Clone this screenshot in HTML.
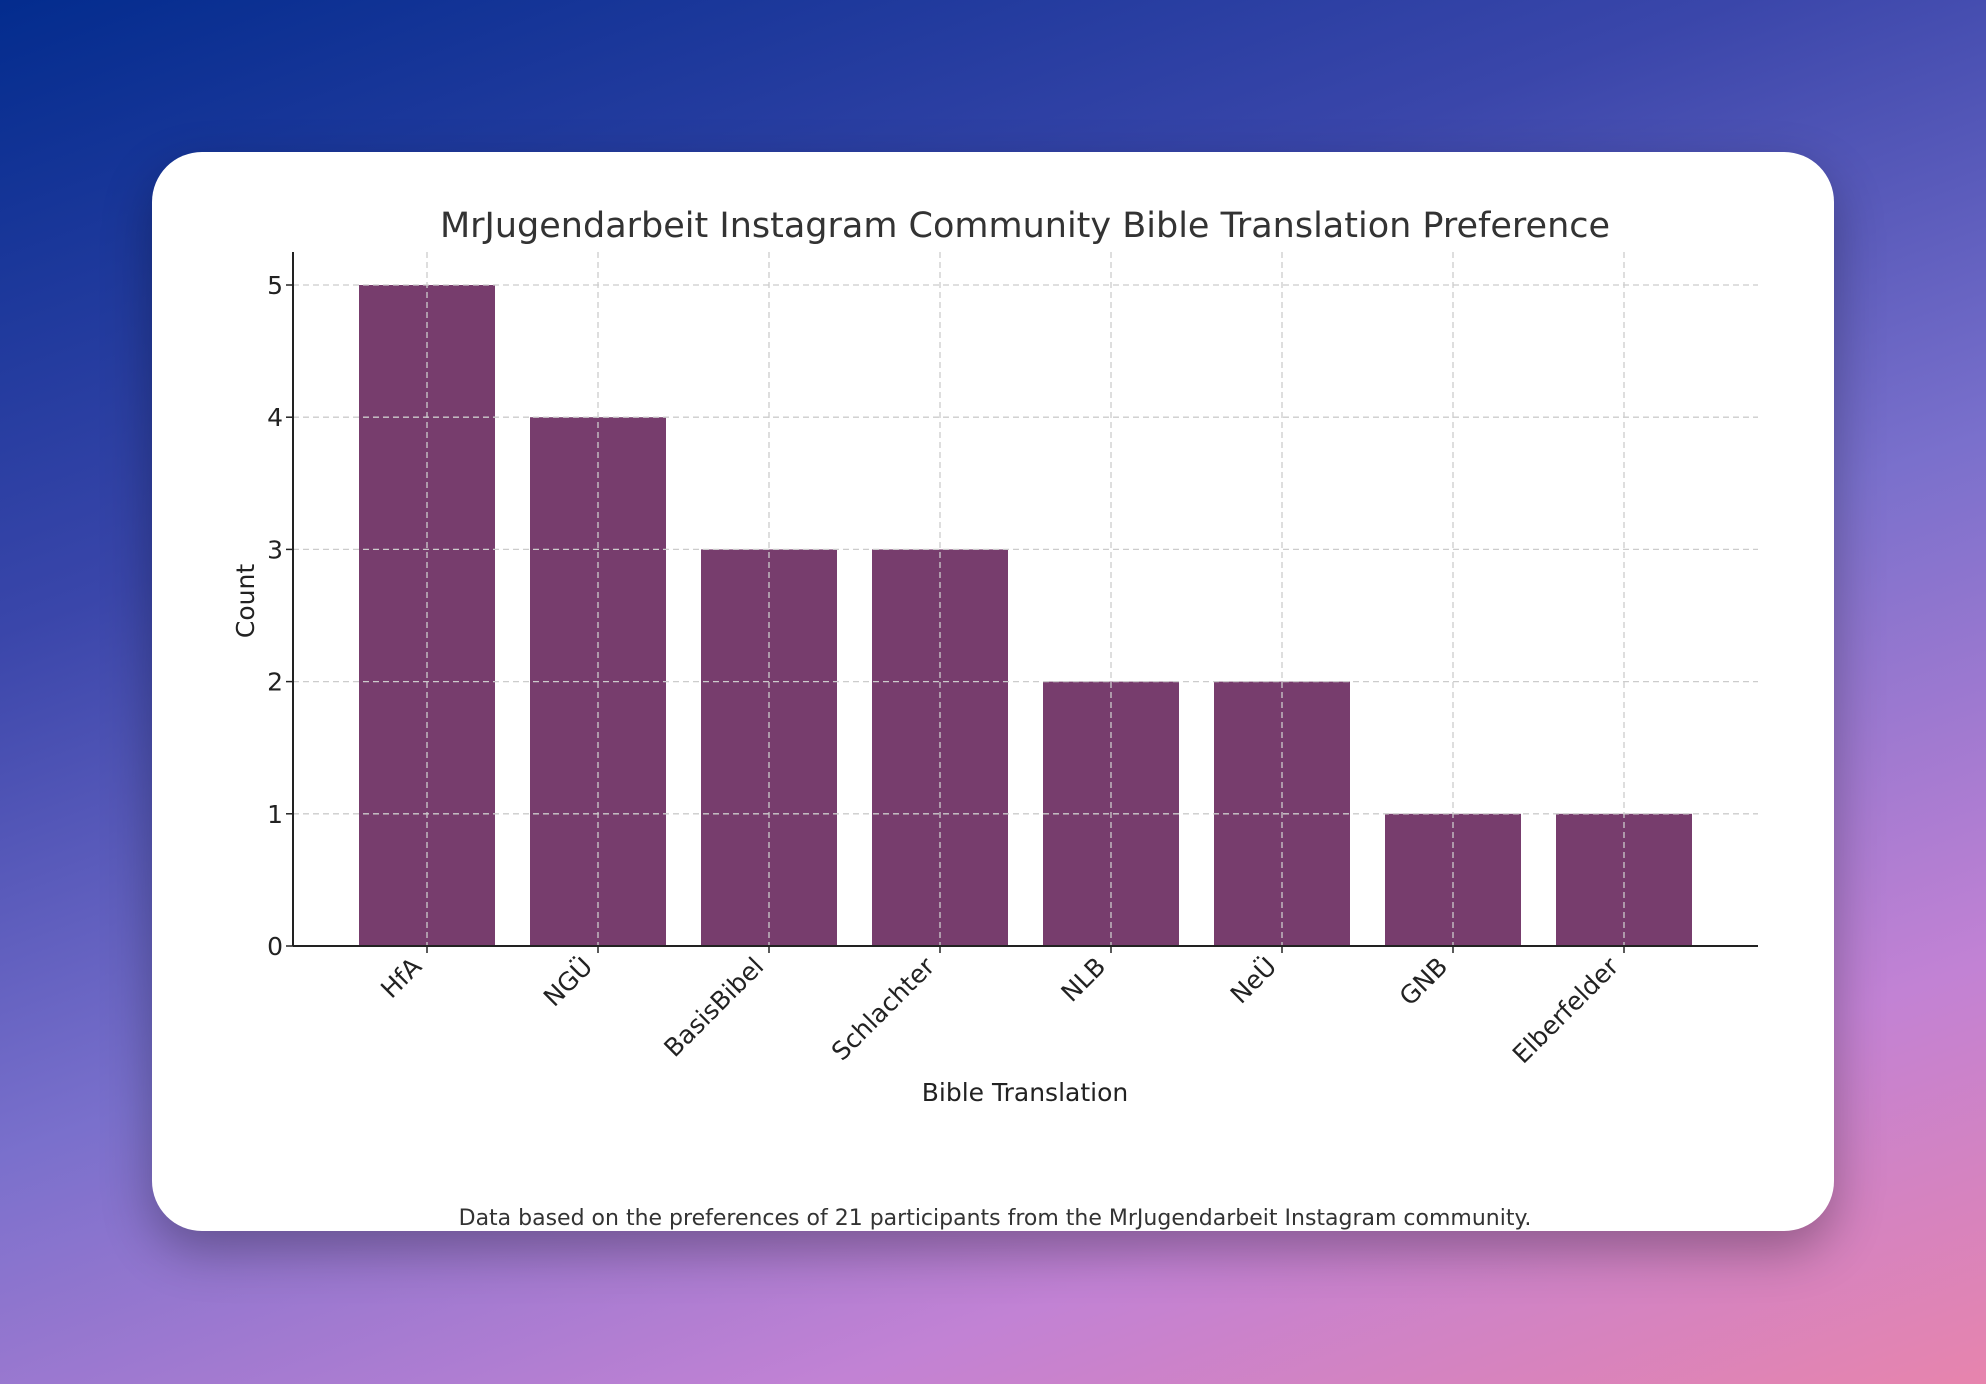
<!DOCTYPE html>
<html><head><meta charset="utf-8"><style>
body{margin:0;width:1986px;height:1384px;overflow:hidden;font-family:"DejaVu Sans","Liberation Sans",sans-serif;
background:linear-gradient(160deg,#032c8e 0%,#3a46aa 30%,#7a70cc 55%,#c282d4 80%,#e784ad 100%);position:relative}
#card{position:absolute;left:152px;top:152px;width:1682px;height:1079px;background:#fff;border-radius:50px;box-shadow:0 20px 50px rgba(0,0,0,0.3)}
svg{position:absolute;left:0;top:0}
</style></head><body>
<div id="card"></div>
<svg id="chart" width="1986" height="1384"></svg>
<script>
const categories=["HfA","NGÜ","BasisBibel","Schlachter","NLB","NeÜ","GNB","Elberfelder"];
const counts=[5,4,3,3,2,2,1,1];
const yTicks=[0,1,2,3,4,5];
const svg=document.getElementById('chart');
const NS='http://www.w3.org/2000/svg';
const x0=293,x1=1758,y0=946,y5=285,yTop=252;
const yS=v=>y0+(y5-y0)*v/5;
const xS=i=>427+i*171;
function mk(t,a,p){const e=document.createElementNS(NS,t);for(const k in a)e.setAttribute(k,a[k]);(p||svg).appendChild(e);return e;}
let e;
e=mk('text',{x:1025,y:237,'text-anchor':'middle','font-size':35,fill:'#333'});e.textContent='MrJugendarbeit Instagram Community Bible Translation Preference';


categories.forEach((c,i)=>{
 const r=mk('rect',{x:xS(i)-68,y:yS(counts[i]),width:136,height:y0-yS(counts[i]),fill:'#773d6d'});
 
 
});
yTicks.forEach(v=>{
 const g=mk('line',{x1:x0,x2:x1,y1:yS(v),y2:yS(v),stroke:'#ccc','stroke-dasharray':'6,4','stroke-width':1.3});
 
 
 mk('line',{x1:x0-7,x2:x0,y1:yS(v),y2:yS(v),stroke:'#222','stroke-width':1.5});
 const t=mk('text',{x:x0-10,y:yS(v)+9,'text-anchor':'end','font-size':25,fill:'#222'});t.textContent=v;
 
 
});
categories.forEach((c,i)=>{
 const g=mk('line',{x1:xS(i),x2:xS(i),y1:yTop,y2:y0,stroke:'#ccc','stroke-dasharray':'6,4','stroke-width':1.3});
 
 
 mk('line',{x1:xS(i),x2:xS(i),y1:y0,y2:y0+7,stroke:'#222','stroke-width':1.5});
 const tx=xS(i)-4,ty=y0+22;
 const t=mk('text',{x:tx,y:ty,'text-anchor':'end','font-size':25,fill:'#222',transform:`rotate(-45 ${tx} ${ty})`});t.textContent=c;
 
 
});
e=mk('line',{x1:x0,x2:x0,y1:yTop,y2:y0,stroke:'#222','stroke-width':2});


e=mk('line',{x1:x0,x2:x1,y1:y0,y2:y0,stroke:'#222','stroke-width':2});


e=mk('text',{x:1025,y:1101,'text-anchor':'middle','font-size':25,fill:'#222'});e.textContent='Bible Translation';


e=mk('text',{x:254,y:601,'text-anchor':'middle','font-size':25,fill:'#222',transform:'rotate(-90 254 601)'});e.textContent='Count';


e=mk('text',{x:995,y:1225,'text-anchor':'middle','font-size':22,fill:'#333'});e.textContent='Data based on the preferences of 21 participants from the MrJugendarbeit Instagram community.';


</script>
</body></html>
